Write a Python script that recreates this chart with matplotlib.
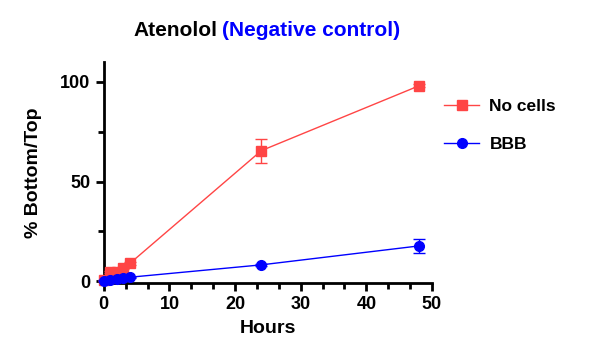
import numpy as np
import matplotlib.pyplot as plt
from matplotlib.ticker import MultipleLocator
from matplotlib.lines import Line2D

plt.rcParams['font.family'] = ['Liberation Sans', 'DejaVu Sans']
plt.rcParams['font.weight'] = 'bold'

# data
hours = [0, 1, 2, 3, 4, 24, 48]
no_cells = [0.5, 4.5, 4.5, 6.5, 9.0, 65.5, 98.0]
no_cells_err = [0.3, 0.5, 0.5, 0.6, 0.8, 6.0, 0.8]
bbb = [0.3, 0.8, 1.2, 1.5, 2.0, 8.2, 17.7]
bbb_err = [0.1, 0.2, 0.2, 0.2, 0.3, 0.6, 3.5]

red = '#ff4545'
blue = '#0000ff'

fig = plt.figure(figsize=(6, 3.54), dpi=100)
ax = fig.add_axes([0.173, 0.2, 0.547, 0.625])

ax.errorbar(hours, no_cells, yerr=no_cells_err, color=red, marker='s', markersize=7,
            linewidth=1.0, elinewidth=1.0, capsize=4, capthick=1.0,
            clip_on=False, zorder=3)
ax.errorbar(hours, bbb, yerr=bbb_err, color=blue, marker='o', markersize=7,
            linewidth=1.0, elinewidth=1.0, capsize=4, capthick=1.0,
            clip_on=False, zorder=4)

ax.set_xlim(0, 50)
ax.set_ylim(-1, 110)
ax.xaxis.set_major_locator(MultipleLocator(10))
ax.xaxis.set_minor_locator(MultipleLocator(10 / 3))
ax.set_yticks([0, 50, 100])
ax.yaxis.set_minor_locator(MultipleLocator(25))
ax.spines['top'].set_visible(False)
ax.spines['right'].set_visible(False)
for s in ['left', 'bottom']:
    ax.spines[s].set_linewidth(2)
ax.tick_params(which='major', length=6, width=2, labelsize=13)
ax.tick_params(which='minor', length=4, width=2)
for lab in ax.get_xticklabels() + ax.get_yticklabels():
    lab.set_fontweight('bold')

ax.set_xlabel('Hours', fontsize=14, fontweight='bold', labelpad=5)
ax.set_ylabel('% Bottom/Top', fontsize=14, fontweight='bold', labelpad=13)

handles = [Line2D([], [], color=red, marker='s', markersize=7, linewidth=1.0),
           Line2D([], [], color=blue, marker='o', markersize=7, linewidth=1.0)]
leg = ax.legend(handles, ['No cells', 'BBB'], loc='upper left',
                bbox_to_anchor=(0.99, 0.905), frameon=False,
                fontsize=12.5, handlelength=2.0, handletextpad=0.6, labelspacing=1.35)
for t in leg.get_texts():
    t.set_fontweight('bold')

fig.text(0.362, 0.915, 'Atenolol', ha='right', va='center', fontsize=15, fontweight='bold')
fig.text(0.370, 0.915, '(Negative control)', ha='left', va='center', fontsize=15,
         fontweight='bold', color=blue)

fig.savefig('out.png', dpi=100)
